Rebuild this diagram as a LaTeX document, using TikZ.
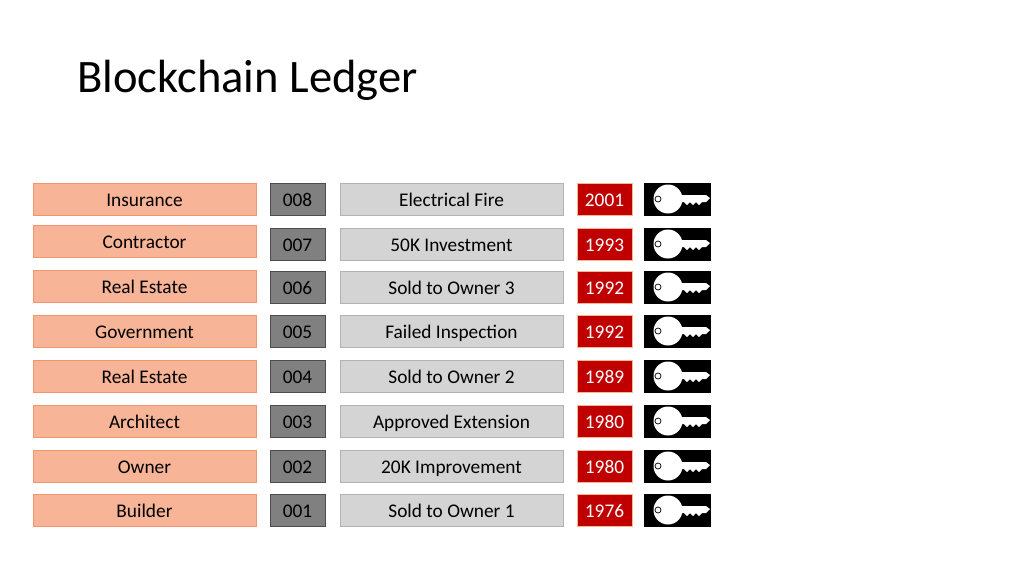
\documentclass[tikz,border=0pt]{standalone}
\usepackage{fontspec}
\setmainfont{Carlito}
\usetikzlibrary{positioning}

\definecolor{salmon}{RGB}{247,180,150}
\definecolor{salmonedge}{RGB}{240,150,110}
\definecolor{idgray}{RGB}{128,128,128}
\definecolor{txtgray}{RGB}{212,212,212}
\definecolor{yearred}{RGB}{192,0,0}

\begin{document}
\begin{tikzpicture}[x=0.02cm,y=-0.02cm]

\tikzstyle{cell} = [rectangle, minimum height=0.64cm, text height=2ex, text depth=0.2ex, font=\fontsize{11}{13}\selectfont]
\tikzstyle{partybox} = [cell, draw=salmonedge, fill=salmon, minimum width=4.46cm]
\tikzstyle{idbox} = [cell, draw=black!70, fill=idgray, minimum width=1.1cm]
\tikzstyle{eventbox} = [cell, draw=black!30, fill=txtgray, minimum width=4.46cm]
\tikzstyle{yearbox} = [cell, draw=salmon, fill=yearred, text=white, minimum width=1.1cm]

\useasboundingbox (0,0) rectangle (1024,576);

\node (title) [anchor=base west, font=\fontsize{26.5}{30}\selectfont] at (71,92) {Blockchain Ledger};

\foreach \n/\party/\py/\event/\ey/\year in {
  8/Insurance/199/Electrical Fire/199/2001,
  7/Contractor/241/50K Investment/244/1993,
  6/Real Estate/286/Sold to Owner 3/287/1992,
  5/Government/331/Failed Inspection/331/1992,
  4/Real Estate/376/Sold to Owner 2/376/1989,
  3/Architect/421/Approved Extension/421/1980,
  2/Owner/466/20K Improvement/466/1980,
  1/Builder/510/Sold to Owner 1/510/1976}{
  \node (party\n) [partybox] at (144.5,\py) {\party};
  \node (id\n) [idbox] at (297.5,\ey) {00\n};
  \node (event\n) [eventbox] at (451.5,\ey) {\event};
  \node (year\n) [yearbox] at (604.5,\ey) {\year};
  % key icon
  \begin{scope}[shift={(644,\ey)}]
    \fill[black] (0,-16.5) rectangle (67,16.5);
    \fill[white] (24,0) circle (14.5);
    \fill[white] (32,-4) -- (62,-4) -- (66,-1) -- (62,3) -- (58,3) -- (55,6) -- (52,3)
      -- (49,6) -- (46,3) -- (43,6) -- (40,3) -- (32,3) -- cycle;
    \draw[black, thin] (14,0) circle (3);
  \end{scope}
}

\end{tikzpicture}
\end{document}
